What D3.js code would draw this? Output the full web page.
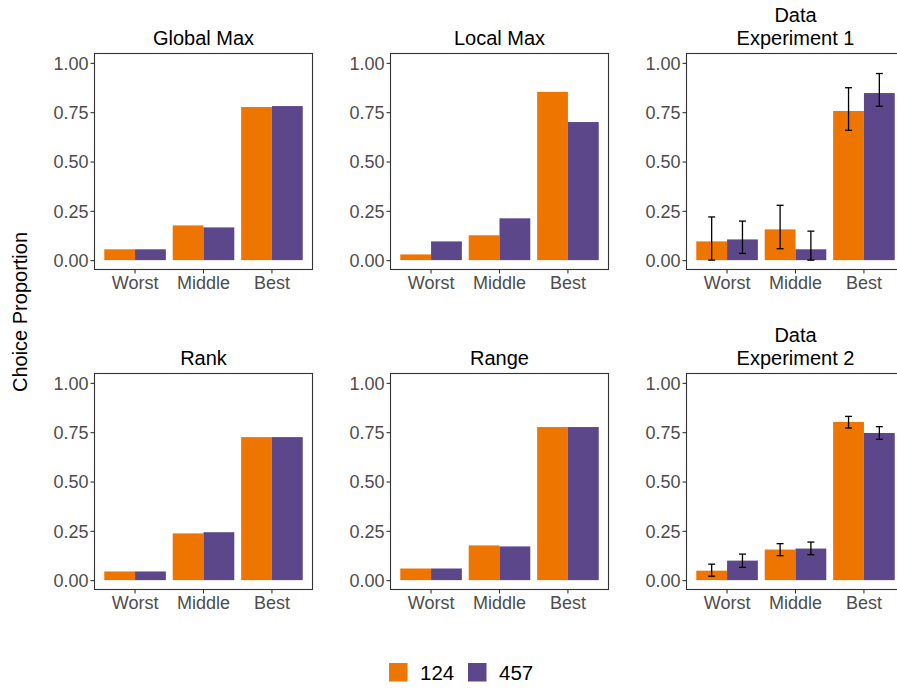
<!DOCTYPE html>
<html>
<head>
<meta charset="utf-8">
<script src="https://cdn.jsdelivr.net/npm/d3@7"></script>
<style>
  html, body { margin: 0; padding: 0; background: #fff; }
  svg { display: block; font-family: "Liberation Sans", Arial, sans-serif; }
</style>
</head>
<body>
<svg id="chart" width="897" height="690"></svg>
<script>
// Choice categories and the two option-set groups
const categories = ["Worst", "Middle", "Best"];
const groups = ["124", "457"];
const groupColors = ["#EE7600", "#5D478B"];
const yTicks = [0, 0.25, 0.5, 0.75, 1];

// Model predictions
const globalMax124 = [0.055, 0.176, 0.776];
const globalMax457 = [0.055, 0.166, 0.781];
const localMax124  = [0.029, 0.126, 0.853];
const localMax457  = [0.095, 0.212, 0.700];
const rank124      = [0.044, 0.237, 0.725];
const rank457      = [0.044, 0.243, 0.725];
const range124     = [0.059, 0.176, 0.776];
const range457     = [0.059, 0.171, 0.776];

// Observed proportions with interval bounds
const exp1_124     = [0.095, 0.156, 0.756];
const exp1_124_lo  = [0.000, 0.058, 0.658];
const exp1_124_hi  = [0.219, 0.278, 0.874];
const exp1_457     = [0.105, 0.055, 0.847];
const exp1_457_lo  = [0.034, 0.000, 0.780];
const exp1_457_hi  = [0.198, 0.147, 0.946];

const exp2_124     = [0.048, 0.155, 0.802];
const exp2_124_lo  = [0.020, 0.124, 0.771];
const exp2_124_hi  = [0.081, 0.185, 0.830];
const exp2_457     = [0.099, 0.160, 0.746];
const exp2_457_lo  = [0.065, 0.129, 0.714];
const exp2_457_hi  = [0.132, 0.193, 0.778];

const panels = [
  { title: ["Global Max"], vals: [globalMax124, globalMax457], col: 0, row: 0 },
  { title: ["Local Max"], vals: [localMax124, localMax457], col: 1, row: 0 },
  { title: ["Data", "Experiment 1"], vals: [exp1_124, exp1_457],
    lo: [exp1_124_lo, exp1_457_lo], hi: [exp1_124_hi, exp1_457_hi], col: 2, row: 0 },
  { title: ["Rank"], vals: [rank124, rank457], col: 0, row: 1 },
  { title: ["Range"], vals: [range124, range457], col: 1, row: 1 },
  { title: ["Data", "Experiment 2"], vals: [exp2_124, exp2_457],
    lo: [exp2_124_lo, exp2_457_lo], hi: [exp2_124_hi, exp2_457_hi], col: 2, row: 1 }
];

const svg = d3.select("#chart");
const panelLeft = [94, 390, 686];
const panelTop = [53, 373];
const pw = 219, ph = 217;
const tickColor = "#4D4D4D";
const lineColor = "#333333";

panels.forEach(p => {
  const x0 = panelLeft[p.col], y0 = panelTop[p.row];
  const g = svg.append("g");

  const x = d3.scaleBand().domain(categories).range([x0, x0 + pw])
    .paddingInner(0.1).paddingOuter(0.15);
  const xg = d3.scaleBand().domain(groups).range([0, x.bandwidth()]);
  const y = d3.scaleLinear().domain([-0.05, 1.05]).range([y0 + ph, y0]);

  // bars
  groups.forEach((grp, gi) => {
    g.selectAll(null).data(categories).enter().append("rect")
      .attr("x", c => x(c) + xg(grp))
      .attr("width", xg.bandwidth())
      .attr("y", (c, i) => y(p.vals[gi][i]))
      .attr("height", (c, i) => y(0) - y(p.vals[gi][i]))
      .attr("fill", groupColors[gi]);
  });

  // interval bars
  if (p.lo) {
    groups.forEach((grp, gi) => {
      const cx = c => x(c) + xg(grp) + xg.bandwidth() / 2;
      const eb = g.selectAll(null).data(categories).enter().append("g")
        .attr("stroke", "#000").attr("stroke-width", 1.3).attr("fill", "none");
      eb.append("line").attr("x1", cx).attr("x2", cx)
        .attr("y1", (c, i) => y(p.lo[gi][i])).attr("y2", (c, i) => y(p.hi[gi][i]));
      eb.append("line").attr("x1", c => cx(c) - 3.5).attr("x2", c => cx(c) + 3.5)
        .attr("y1", (c, i) => y(p.lo[gi][i])).attr("y2", (c, i) => y(p.lo[gi][i]));
      eb.append("line").attr("x1", c => cx(c) - 3.5).attr("x2", c => cx(c) + 3.5)
        .attr("y1", (c, i) => y(p.hi[gi][i])).attr("y2", (c, i) => y(p.hi[gi][i]));
    });
  }

  // panel border
  g.append("rect").attr("x", x0 + 0.5).attr("y", y0 + 0.5)
    .attr("width", pw - 1).attr("height", ph - 1)
    .attr("fill", "none").attr("stroke", lineColor).attr("stroke-width", 1.1);

  // axes
  const yAxis = d3.axisLeft(y).tickValues(yTicks).tickFormat(d3.format(".2f"))
    .tickSize(4).tickPadding(2);
  const ya = g.append("g").attr("transform", `translate(${x0 + 0.5},0)`).call(yAxis);
  const xAxis = d3.axisBottom(x).tickSize(4).tickPadding(2);
  const xa = g.append("g").attr("transform", `translate(0,${y0 + ph - 0.5})`).call(xAxis);
  [ya, xa].forEach(a => {
    a.select(".domain").remove();
    a.selectAll(".tick line").attr("stroke", lineColor).attr("stroke-width", 1.1);
    a.selectAll(".tick text").attr("fill", tickColor)
      .style("font-size", "18px").style("font-family", "'Liberation Sans', Arial, sans-serif");
  });
  xa.selectAll(".tick text").attr("dy", "0.76em");
  ya.selectAll(".tick text").attr("dy", "0.36em");

  // title
  const t = g.append("text").attr("text-anchor", "middle")
    .attr("x", x0 + pw / 2).attr("fill", "#000").style("font-size", "20px");
  const n = p.title.length;
  p.title.forEach((line, i) => {
    t.append("tspan").attr("x", x0 + pw / 2)
      .attr("y", y0 - 8 - (n - 1 - i) * 23).text(line);
  });
});

// shared y-axis label
svg.append("text")
  .attr("transform", "translate(27,312) rotate(-90)")
  .attr("text-anchor", "middle").attr("fill", "#000")
  .style("font-size", "20px").text("Choice Proportion");

// legend
const legend = svg.append("g");
const legendX = [389, 468];
groups.forEach((grp, gi) => {
  legend.append("rect").attr("x", legendX[gi]).attr("y", 663)
    .attr("width", 18.5).attr("height", 18.5).attr("fill", groupColors[gi]);
  legend.append("text").attr("x", legendX[gi] + 31).attr("y", 680)
    .attr("fill", "#000").style("font-size", "20.5px").text(grp);
});
</script>
</body>
</html>
